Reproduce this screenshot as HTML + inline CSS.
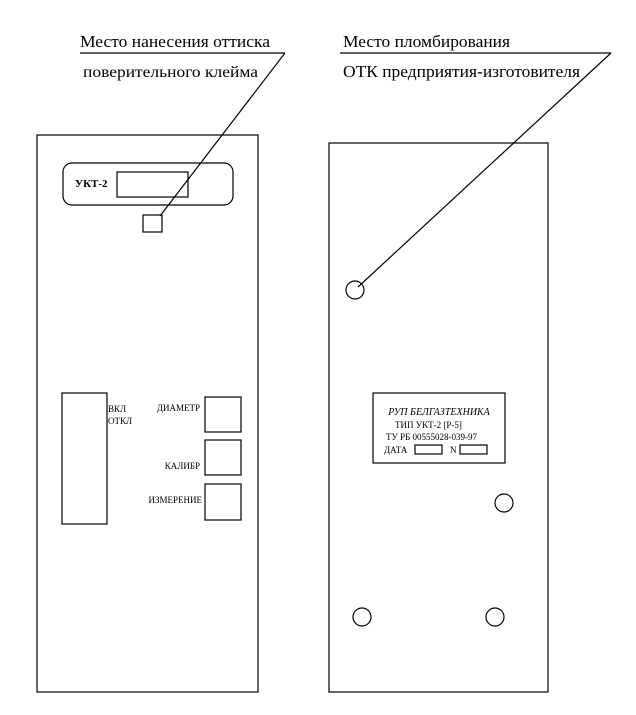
<!DOCTYPE html>
<html><head><meta charset="utf-8"><style>body{margin:0;background:#fff} text{font-family:"Liberation Serif",serif}</style></head><body>
<svg width="636" height="710" xmlns="http://www.w3.org/2000/svg" style="font-family:'Liberation Serif',serif" fill="none" stroke="#000">
<g fill="#000" stroke="none">
<text x="80" y="47" font-size="17" textLength="190" lengthAdjust="spacingAndGlyphs">Место нанесения оттиска</text>
<text x="83" y="77" font-size="16" textLength="175" lengthAdjust="spacingAndGlyphs">поверительного клейма</text>
<text x="343" y="47" font-size="17" textLength="167" lengthAdjust="spacingAndGlyphs">Место пломбирования</text>
<text x="343" y="77" font-size="17" textLength="237" lengthAdjust="spacingAndGlyphs">ОТК предприятия-изготовителя</text>
<text x="75" y="187" font-size="11" font-weight="bold">УКТ-2</text>
<text x="108" y="412" font-size="9">ВКЛ</text>
<text x="108" y="424" font-size="9">ОТКЛ</text>
<text x="200" y="411" font-size="9" text-anchor="end">ДИАМЕТР</text>
<text x="200" y="469" font-size="9" text-anchor="end">КАЛИБР</text>
<text x="202" y="503" font-size="9" text-anchor="end">ИЗМЕРЕНИЕ</text>
<text x="439" y="415" font-size="10" font-style="italic" text-anchor="middle">РУП БЕЛГАЗТЕХНИКА</text>
<text x="395" y="428" font-size="9">ТИП УКТ-2  [Р-5]</text>
<text x="386" y="440" font-size="9">ТУ РБ 00555028-039-97</text>
<text x="384" y="453" font-size="9">ДАТА</text>
<text x="450" y="453" font-size="9">N</text>
</g>
<g stroke-width="1.2">
<line x1="80" y1="53" x2="285" y2="53"/>
<line x1="285" y1="53" x2="160" y2="216"/>
<line x1="340" y1="53" x2="611" y2="53"/>
<line x1="611" y1="53" x2="358" y2="287"/>
<rect x="37" y="135" width="221" height="557"/>
<rect x="329" y="143" width="219" height="549"/>
<rect x="63" y="163" width="170" height="42" rx="9"/>
<rect x="117" y="172" width="71" height="25"/>
<rect x="143" y="215" width="19" height="17"/>
<rect x="62" y="393" width="45" height="131"/>
<rect x="205" y="397" width="36" height="35"/>
<rect x="205" y="440" width="36" height="35"/>
<rect x="205" y="484" width="36" height="36"/>
<rect x="373" y="393" width="132" height="70"/>
<rect x="415" y="445" width="27" height="9"/>
<rect x="460" y="445" width="27" height="9"/>
<circle cx="355" cy="290" r="9"/>
<circle cx="504" cy="503" r="9"/>
<circle cx="362" cy="617" r="9"/>
<circle cx="495" cy="617" r="9"/>
</g>
</svg>
</body></html>
